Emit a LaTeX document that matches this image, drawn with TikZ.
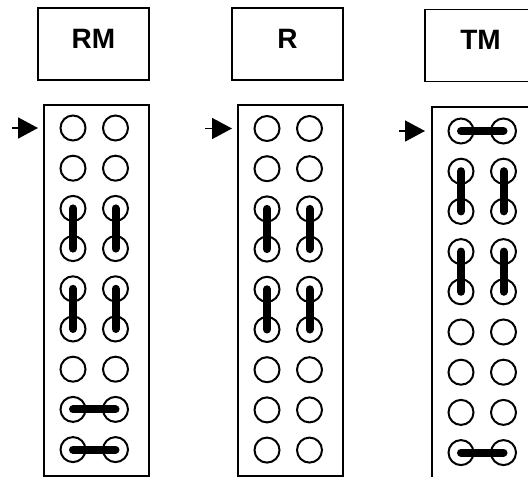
\documentclass[tikz,border=0pt]{standalone}
\usepackage{fontspec}
\setmainfont{Liberation Sans}
\usetikzlibrary{arrows.meta}
\begin{document}
\begin{tikzpicture}[x=1pt,y=-1pt,
  labelbox/.style={draw, line width=1.8pt, minimum width=111pt, minimum height=72pt,
    inner sep=0pt, font=\fontsize{28}{30}\selectfont\bfseries,
    text height=20pt, text depth=12pt},
  panel/.style={draw, line width=1.8pt, minimum width=105pt, inner sep=0pt},
  hole/.style={draw, circle, line width=2pt, minimum size=25pt, inner sep=0pt},
  jumper/.style={line width=8pt, line cap=round},
  feed/.style={line width=1.6pt, -{Triangle[length=20pt,width=21pt]}}]
  \path[use as bounding box, clip] (0,0) rectangle (528,477);

  % header boxes
  \node[labelbox] (rmbox) at (93.5,44) {RM};
  \node[labelbox] (rbox)  at (287.5,44) {R};
  \node[labelbox] (tmbox) at (480.5,45.5) {TM};

  % jumper panels
  \node[panel, minimum height=371pt] (rmpanel) at (96.5,290.5) {};
  \node[panel, minimum height=371pt] (rpanel)  at (290.5,290.5) {};
  \node[panel, minimum height=390pt] (tmpanel) at (484.5,302) {};

  % header pins, two columns of nine
  \foreach \p/\px/\py in {rm/44/128, r/238/128.5, tm/432/131} {
    \foreach \r in {1,...,9} {
      \node[hole] (\p-\r-1) at ({\px+29},{\py+40.2*(\r-1)}) {};
      \node[hole] (\p-\r-2) at ({\px+71.5},{\py+40.2*(\r-1)}) {};
    }
  }

  % feed arrows
  \coordinate (rm-in)  at (12,128);
  \coordinate (rm-tip) at (38,128);
  \coordinate (r-in)   at (205,128.5);
  \coordinate (r-tip)  at (232,128.5);
  \coordinate (tm-in)  at (399,131);
  \coordinate (tm-tip) at (425,131);
  \draw[feed] (rm-in) -- (rm-tip);
  \draw[feed] (r-in) -- (r-tip);
  \draw[feed] (tm-in) -- (tm-tip);

  % RM jumpers
  \draw[jumper] (rm-3-1.center) -- (rm-4-1.center);
  \draw[jumper] (rm-3-2.center) -- (rm-4-2.center);
  \draw[jumper] (rm-5-1.center) -- (rm-6-1.center);
  \draw[jumper] (rm-5-2.center) -- (rm-6-2.center);
  \draw[jumper] (rm-8-1.center) -- (rm-8-2.center);
  \draw[jumper] (rm-9-1.center) -- (rm-9-2.center);

  % R jumpers
  \draw[jumper] (r-3-1.center) -- (r-4-1.center);
  \draw[jumper] (r-3-2.center) -- (r-4-2.center);
  \draw[jumper] (r-5-1.center) -- (r-6-1.center);
  \draw[jumper] (r-5-2.center) -- (r-6-2.center);

  % TM jumpers
  \draw[jumper] (tm-1-1.center) -- (tm-1-2.center);
  \draw[jumper] (tm-2-1.center) -- (tm-3-1.center);
  \draw[jumper] (tm-2-2.center) -- (tm-3-2.center);
  \draw[jumper] (tm-4-1.center) -- (tm-5-1.center);
  \draw[jumper] (tm-4-2.center) -- (tm-5-2.center);
  \draw[jumper] (tm-9-1.center) -- (tm-9-2.center);
\end{tikzpicture}
\end{document}
